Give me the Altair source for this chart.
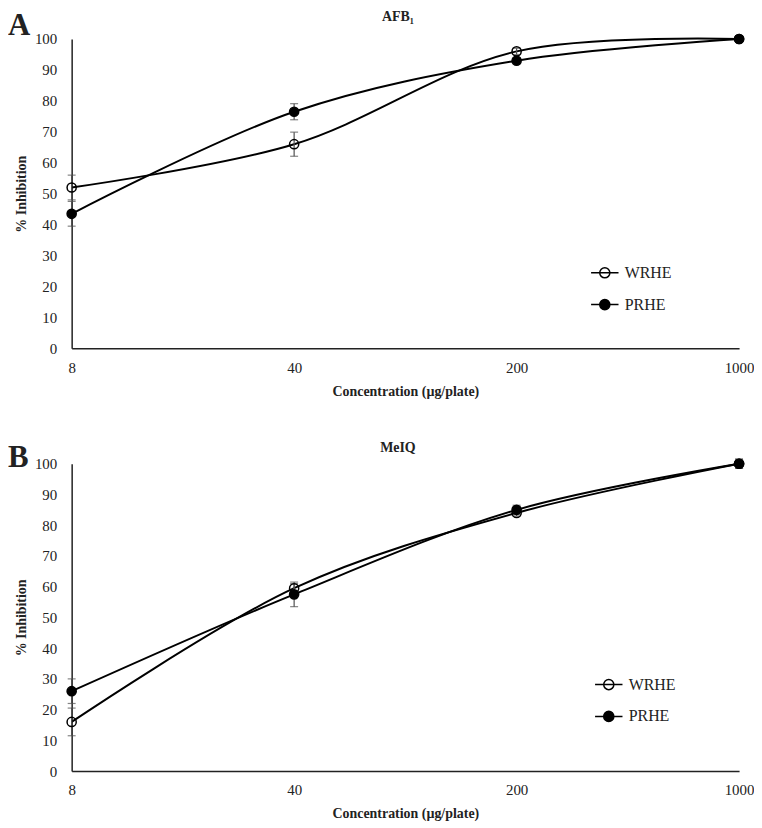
import altair as alt
import pandas as pd

conc = [8, 40, 200, 1000]
series = ["WRHE", "PRHE"]

afb_wrhe = [52, 66, 96, 100]
afb_wrhe_err = [4, 3.9, 1, 0.5]
afb_prhe = [43.5, 76.5, 93, 100]
afb_prhe_err = [4, 2.6, 1, 0.5]

meiq_wrhe = [16, 59.5, 84, 100]
meiq_wrhe_err = [4.5, 1.5, 1, 1.5]
meiq_prhe = [26, 57.5, 85, 100]
meiq_prhe_err = [4, 4, 1.5, 1.5]

panel_titles = ["AFB\u2081", "MeIQ"]
panel_letters = ["A", "B"]
y_ticks = list(range(0, 101, 10))

FONT = "Liberation Serif"
INK = "#222222"


def make_df(w, we, p, pe):
    rows = []
    for name, vals, errs in [("WRHE", w, we), ("PRHE", p, pe)]:
        for c, v, e in zip(conc, vals, errs):
            rows.append({"conc": c, "val": v, "lo": v - e, "hi": v + e, "series": name})
    return pd.DataFrame(rows)


legend_symbol = ("M-1,0L1,0M0.37,0A0.37,0.37,0,1,1,-0.37,0"
                 "A0.37,0.37,0,1,1,0.37,0Z")


def panel(df, title, letter, height, title_y, letter_y, legend_y, legend_x):
    xs = alt.Scale(type="log", domain=[8, 1000])
    ys = alt.Scale(domain=[0, 100])
    xaxis = alt.Axis(values=conc, format="d", title="Concentration (µg/plate)",
                     labelFlush=False, ticks=False, grid=False,
                     labelPadding=12, titlePadding=9)
    yaxis = alt.Axis(values=y_ticks, title="% Inhibition", ticks=False,
                     grid=False, labelPadding=15, titlePadding=6, labelOverlap=False)
    base = alt.Chart(df)
    lines = base.mark_line(interpolate="catmull-rom", color="black",
                           strokeWidth=2).encode(
        x=alt.X("conc:Q", scale=xs, axis=xaxis),
        y=alt.Y("val:Q", scale=ys, axis=yaxis),
        detail="series:N")
    err = base.mark_errorbar(ticks={"size": 8}, color="#505050", thickness=1.2).encode(
        x=alt.X("conc:Q", scale=xs, axis=xaxis),
        y=alt.Y("lo:Q", scale=ys, axis=yaxis),
        y2="hi:Q",
        detail="series:N",
    )
    pts = base.mark_point(shape="circle", filled=True, stroke="black",
                          strokeWidth=1.5, size=85, opacity=1).encode(
        x=alt.X("conc:Q", scale=xs, axis=xaxis),
        y=alt.Y("val:Q", scale=ys, axis=yaxis),
        fill=alt.Fill("series:N",
                      scale=alt.Scale(domain=series, range=["transparent", "black"]),
                      legend=alt.Legend(title=None, orient="none", legendX=legend_x,
                                        legendY=legend_y, symbolType=legend_symbol,
                                        symbolSize=760, symbolStrokeColor="black",
                                        symbolStrokeWidth=1.5, labelFont=FONT,
                                        labelFontSize=16, labelColor=INK,
                                        labelOffset=5, rowPadding=8)),
    )
    lab = alt.Chart(pd.DataFrame({"t": [letter]})).mark_text(
        font=FONT, fontSize=31, fontWeight="bold", align="left", baseline="top",
        color=INK).encode(text="t:N", x=alt.value(-64), y=alt.value(letter_y))
    ttl = alt.Chart(pd.DataFrame({"t": [title]})).mark_text(
        font=FONT, fontSize=14, fontWeight="bold", align="center", baseline="middle",
        color=INK).encode(text="t:N", x=alt.value(328), y=alt.value(title_y))
    return alt.layer(lines, err, pts, lab, ttl).properties(width=671, height=height)


pa = panel(make_df(afb_wrhe, afb_wrhe_err, afb_prhe, afb_prhe_err),
           panel_titles[0], panel_letters[0], 311, -22, -28, 220, 521)
pb = panel(make_df(meiq_wrhe, meiq_wrhe_err, meiq_prhe, meiq_prhe_err),
           panel_titles[1], panel_letters[1], 309, -16, -21, 207, 525)

chart = alt.vconcat(pa, pb, spacing=43).resolve_scale(fill="independent").resolve_legend(
    fill="independent").properties(padding=0).configure_view(stroke=None).configure_axis(
    labelFont=FONT, labelFontSize=15, labelColor=INK, titleFont=FONT,
    titleFontSize=14, titleFontWeight="bold", titleColor=INK,
    domainColor=INK, domainWidth=1.5)

chart.save("out.html", embed_options={"renderer": "svg", "actions": False})
